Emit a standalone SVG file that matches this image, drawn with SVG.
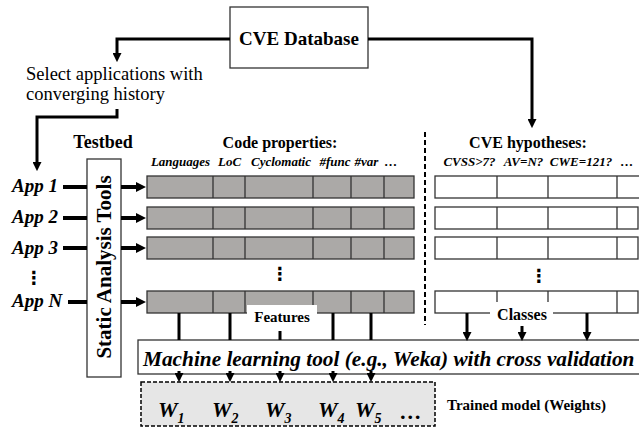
<svg xmlns="http://www.w3.org/2000/svg" width="639" height="429" viewBox="0 0 639 429" font-family="'Liberation Serif', 'Times New Roman', serif">
<style>
text{font-family:"Liberation Serif","Times New Roman",serif;fill:#000}
.b{font-weight:bold}
.bi{font-weight:bold;font-style:italic}
.box{fill:#fff;stroke:#333;stroke-width:1.3}
.cell{fill:#aba9a7;stroke:#333;stroke-width:1.3}
.wcell{fill:#fff;stroke:#333;stroke-width:1.3}
.div{stroke:#333;stroke-width:1.3}
.c{fill:none;stroke:#000;stroke-width:3}
.t{fill:none;stroke:#000;stroke-width:4}
.dots{font-family:"DejaVu Sans",sans-serif;font-size:18px;font-weight:bold}
</style>
<defs>
<marker id="ah" viewBox="0 0 10 10" refX="1" refY="5" markerWidth="9" markerHeight="9" markerUnits="userSpaceOnUse" orient="auto"><path d="M0,0 L10,5 L0,10 z" fill="#000"/></marker>
<marker id="ahb" viewBox="0 0 10 10" refX="1" refY="5" markerWidth="10" markerHeight="10" markerUnits="userSpaceOnUse" orient="auto"><path d="M0,0 L10,5 L0,10 z" fill="#000"/></marker>
</defs>

<g id="cve-db">
<rect class="box" x="230" y="7" width="138" height="61"/>
<text class="b" x="299" y="45" font-size="19" text-anchor="middle">CVE Database</text>
</g>

<g id="select-label">
<text x="26" y="80" font-size="18.5">Select applications with</text>
<text x="26" y="100" font-size="18.5">converging history</text>
</g>

<g id="testbed-label"><text class="b" x="103" y="148" font-size="18" text-anchor="middle">Testbed</text></g>

<g id="apps">
<text class="bi" x="12" y="192" font-size="19">App 1</text>
<text class="bi" x="12" y="223" font-size="19">App 2</text>
<text class="bi" x="12" y="254" font-size="19">App 3</text>
<text class="dots" x="34" y="284" text-anchor="middle">⋮</text>
<text class="bi" x="12" y="307" font-size="19">App N</text>
</g>

<g id="static-tools">
<rect class="box" x="87" y="159" width="34" height="218"/>
<text class="b" font-size="21" text-anchor="middle" transform="translate(110.5,267) rotate(-90)">Static Analysis Tools</text>
</g>

<g id="code-properties">
<text class="b" x="280" y="148" font-size="16" text-anchor="middle">Code properties:</text>
<g font-size="13" text-anchor="middle">
<text class="bi" x="180.5" y="166">Languages</text>
<text class="bi" x="229.5" y="166">LoC</text>
<text class="bi" x="281" y="166">Cyclomatic</text>
<text class="bi" x="335" y="166">#func</text>
<text class="bi" x="366.5" y="166">#var</text>
<text class="bi" x="391" y="166">…</text>
</g>
<g id="feat-row1"><rect class="cell" x="147" y="176" width="267" height="22"/><path class="div" d="M213,176V198M245,176V198M313,176V198M351,176V198M384,176V198"/></g>
<g id="feat-row2"><rect class="cell" x="147" y="207" width="267" height="22"/><path class="div" d="M213,207V229M245,207V229M313,207V229M351,207V229M384,207V229"/></g>
<g id="feat-row3"><rect class="cell" x="147" y="237" width="267" height="22"/><path class="div" d="M213,237V259M245,237V259M313,237V259M351,237V259M384,237V259"/></g>
<text class="dots" x="280" y="280" text-anchor="middle">⋮</text>
<g id="feat-rowN"><rect class="cell" x="147" y="291" width="267" height="22"/><path class="div" d="M213,291V313M245,291V313M313,291V313M351,291V313M384,291V313"/></g>
</g>

<g id="cve-hypotheses">
<text class="b" x="528" y="148" font-size="16" text-anchor="middle">CVE hypotheses:</text>
<g font-size="13" text-anchor="middle">
<text class="bi" x="469.5" y="166">CVSS&gt;7?</text>
<text class="bi" x="523.5" y="166">AV=N?</text>
<text class="bi" x="581" y="166">CWE=121?</text>
<text class="bi" x="627" y="166">…</text>
</g>
<g id="cls-row1"><rect class="wcell" x="435" y="176" width="208" height="22"/><path class="div" d="M497,176V198M548,176V198M617,176V198"/></g>
<g id="cls-row2"><rect class="wcell" x="435" y="207" width="203" height="22"/><path class="div" d="M497,207V229M548,207V229M617,207V229"/></g>
<g id="cls-row3"><rect class="wcell" x="435" y="237" width="203" height="22"/><path class="div" d="M497,237V259M548,237V259M617,237V259"/></g>
<text class="dots" x="539" y="282" text-anchor="middle">⋮</text>
<g id="cls-rowN"><rect class="wcell" x="435" y="291" width="203" height="22"/><path class="div" d="M497,291V313M548,291V313M617,291V313"/></g>
</g>

<g id="divider"><line x1="425" y1="132" x2="425" y2="325" stroke="#000" stroke-width="2" stroke-dasharray="5,3"/></g>

<g id="ml-tool">
<rect class="box" x="138" y="340" width="504" height="34"/>
<text class="bi" x="143" y="366" font-size="21.3">Machine learning tool (e.g., Weka) with cross validation</text>
</g>

<g id="trained-model">
<rect x="141" y="382" width="294" height="44" fill="#e6e6e6" stroke="#000" stroke-width="1.5" stroke-dasharray="4,2"/>
<g class="bi" font-size="22">
<text class="bi" x="158" y="417">W<tspan font-size="14" dy="6">1</tspan></text>
<text class="bi" x="212" y="417">W<tspan font-size="14" dy="6">2</tspan></text>
<text class="bi" x="265" y="417">W<tspan font-size="14" dy="6">3</tspan></text>
<text class="bi" x="318" y="417">W<tspan font-size="14" dy="6">4</tspan></text>
<text class="bi" x="355" y="417">W<tspan font-size="14" dy="6">5</tspan></text>
<text class="bi" x="400" y="419">…</text>
</g>
<text class="b" x="447" y="410" font-size="15">Trained model (Weights)</text>
</g>

<g id="connectors">
<path class="c" d="M230,39H117V54" marker-end="url(#ah)"/>
<path class="c" d="M368,39H532V120" marker-end="url(#ah)"/>
<path class="c" d="M117,109V117H37V163" marker-end="url(#ah)"/>
<path class="t" d="M63,187H87M63,218H87M63,248H87M68,302H87"/>
<path class="t" d="M121,187H137" marker-end="url(#ahb)"/>
<path class="t" d="M121,218H137" marker-end="url(#ahb)"/>
<path class="t" d="M121,248H137" marker-end="url(#ahb)"/>
<path class="t" d="M121,302H137" marker-end="url(#ahb)"/>
<path class="c" d="M179,313V340M230,313V340M333,313V340M371,313V340M280,331V340"/>
<path class="c" d="M467,313V333" marker-end="url(#ah)"/>
<path class="c" d="M522,326V333" marker-end="url(#ah)"/>
<path class="c" d="M587,313V333" marker-end="url(#ah)"/>
<path class="c" d="M179,371V374" marker-end="url(#ah)"/>
<path class="c" d="M230,371V374" marker-end="url(#ah)"/>
<path class="c" d="M280,371V374" marker-end="url(#ah)"/>
<path class="c" d="M333,371V374" marker-end="url(#ah)"/>
<path class="c" d="M371,371V374" marker-end="url(#ah)"/>
</g>

<g id="features-label">
<rect x="247" y="305" width="70" height="21" fill="#fff"/>
<text class="b" x="282" y="322" font-size="15" text-anchor="middle">Features</text>
</g>
<g id="classes-label">
<rect x="490" y="302" width="63" height="24" fill="#fff"/>
<text class="b" x="522" y="320" font-size="16" text-anchor="middle">Classes</text>
</g>
</svg>
